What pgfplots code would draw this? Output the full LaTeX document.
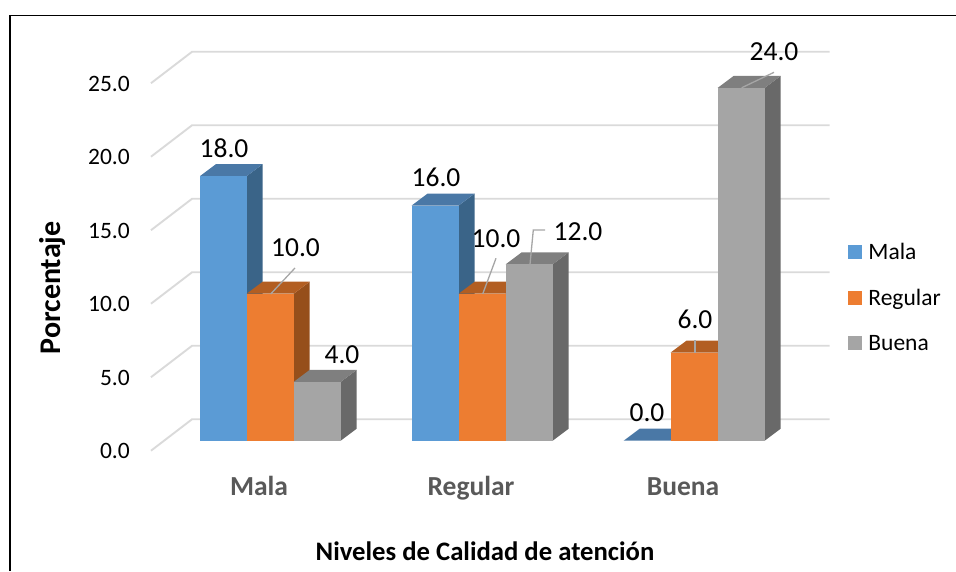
\documentclass[border=0pt]{standalone}
\usepackage{fontspec}
\setmainfont{Carlito}
\usepackage{pgfplots}
\pgfplotsset{compat=1.18}
\definecolor{bF}{HTML}{5B9BD5}\definecolor{bT}{HTML}{4A78A6}\definecolor{bS}{HTML}{3A6488}
\definecolor{oF}{HTML}{ED7D31}\definecolor{oT}{HTML}{B25E22}\definecolor{oS}{HTML}{964F1B}
\definecolor{gF}{HTML}{A5A5A5}\definecolor{gT}{HTML}{7F7F7F}\definecolor{gS}{HTML}{696969}
\definecolor{gridc}{HTML}{DADADA}\definecolor{leader}{HTML}{A6A6A6}\definecolor{cat}{HTML}{595959}
\newcommand\fsA{\fontsize{23.5}{28}\selectfont}
\newcommand\fsB{\fontsize{27.5}{32}\selectfont}
\begin{document}
\begin{tikzpicture}
\useasboundingbox (0,0) rectangle (956pt,571pt);
\draw[line width=1.9pt,black] (9.6pt,0pt) -- (9.6pt,555.5pt) -- (956pt,555.5pt);
\begin{axis}[
  at={(151pt,100.9pt)},anchor=south west,
  scale only axis,width=679pt,height=396.9pt,
  xmin=151,xmax=830,ymin=-2,ymax=25,
  clip=false,
  axis line style={draw=none},
  major tick length=0pt,
  ytick={0,5,10,15,20,25},
  xtick={259,471,683},
  xticklabels={Mala,Regular,Buena},
  /pgf/number format/assume math mode=true,
  /pgf/number format/fixed,/pgf/number format/fixed zerofill,/pgf/number format/precision=1,
  yticklabel style={font=\fsA,black,anchor=east,inner sep=0pt,xshift=-21pt,yshift=-10.5pt},
  xticklabel style={font=\fsB\bfseries,text=cat,anchor=base,inner sep=0pt,yshift=-25pt},
  xlabel={Niveles de Calidad de atención},
  ylabel={Porcentaje},
  xlabel style={font=\fontsize{26.7}{32}\selectfont\bfseries,at={(axis cs:485,-8.18)},anchor=base,inner sep=0pt},
  ylabel style={font=\fontsize{30}{36}\selectfont\bfseries,at={(axis cs:52.5,10.4)},anchor=center,inner sep=0pt},
  legend cell align=left,
  legend style={at={(axis cs:848,13.56)},anchor=north west,draw=none,fill=none,font=\fsA,
    /tikz/row sep=24pt,inner sep=0pt},
  legend image code/.code={\fill[#1,draw=none] (0pt,-7pt) rectangle (14pt,7pt);\path (18pt,0pt);},
]
% gridlines (back wall and side wall)
\addplot[gridc,line width=1.9pt,forget plot] coordinates {(151,-0.68)(192,1.456)(829.5,1.456)};
\addplot[gridc,line width=1.9pt,forget plot] coordinates {(151,4.32)(192,6.456)(829.5,6.456)};
\addplot[gridc,line width=1.9pt,forget plot] coordinates {(151,9.32)(192,11.456)(829.5,11.456)};
\addplot[gridc,line width=1.9pt,forget plot] coordinates {(151,14.32)(192,16.456)(829.5,16.456)};
\addplot[gridc,line width=1.9pt,forget plot] coordinates {(151,19.32)(192,21.456)(829.5,21.456)};
\addplot[gridc,line width=1.9pt,forget plot] coordinates {(151,24.32)(192,26.456)(829.5,26.456)};
% Mala group
\addplot[fill=bS,draw=none,forget plot] coordinates {(246.7,0)(262.7,0.816)(262.7,18.816)(246.7,18)} -- cycle;
\addplot[fill=bT,draw=none,forget plot] coordinates {(200,18)(216,18.816)(262.7,18.816)(246.7,18)} -- cycle;
\addplot[fill=bF,draw=none,forget plot] coordinates {(200,0)(246.7,0)(246.7,18)(200,18)} -- cycle;
\addplot[fill=oS,draw=none,forget plot] coordinates {(293.7,0)(309.7,0.816)(309.7,10.816)(293.7,10)} -- cycle;
\addplot[fill=oT,draw=none,forget plot] coordinates {(246.7,10)(262.7,10.816)(309.7,10.816)(293.7,10)} -- cycle;
\addplot[fill=oF,draw=none,forget plot] coordinates {(246.7,0)(293.7,0)(293.7,10)(246.7,10)} -- cycle;
\addplot[fill=gS,draw=none,forget plot] coordinates {(340.7,0)(356.7,0.816)(356.7,4.816)(340.7,4)} -- cycle;
\addplot[fill=gT,draw=none,forget plot] coordinates {(293.7,4)(309.7,4.816)(356.7,4.816)(340.7,4)} -- cycle;
\addplot[fill=gF,draw=none,forget plot] coordinates {(293.7,0)(340.7,0)(340.7,4)(293.7,4)} -- cycle;
% Regular group
\addplot[fill=bS,draw=none,forget plot] coordinates {(458.7,0)(474.7,0.816)(474.7,16.816)(458.7,16)} -- cycle;
\addplot[fill=bT,draw=none,forget plot] coordinates {(411.7,16)(427.7,16.816)(474.7,16.816)(458.7,16)} -- cycle;
\addplot[fill=bF,draw=none,forget plot] coordinates {(411.7,0)(458.7,0)(458.7,16)(411.7,16)} -- cycle;
\addplot[fill=oS,draw=none,forget plot] coordinates {(505.7,0)(521.7,0.816)(521.7,10.816)(505.7,10)} -- cycle;
\addplot[fill=oT,draw=none,forget plot] coordinates {(458.7,10)(474.7,10.816)(521.7,10.816)(505.7,10)} -- cycle;
\addplot[fill=oF,draw=none,forget plot] coordinates {(458.7,0)(505.7,0)(505.7,10)(458.7,10)} -- cycle;
\addplot[fill=gS,draw=none,forget plot] coordinates {(552.7,0)(568.7,0.816)(568.7,12.816)(552.7,12)} -- cycle;
\addplot[fill=gT,draw=none,forget plot] coordinates {(505.7,12)(521.7,12.816)(568.7,12.816)(552.7,12)} -- cycle;
\addplot[fill=gF,draw=none,forget plot] coordinates {(505.7,0)(552.7,0)(552.7,12)(505.7,12)} -- cycle;
% Buena group
\addplot[fill=bT,draw=none,forget plot] coordinates {(623.7,0)(639.7,0.816)(686.7,0.816)(670.7,0)} -- cycle;
\addplot[fill=oS,draw=none,forget plot] coordinates {(717.7,0)(733.7,0.816)(733.7,6.816)(717.7,6)} -- cycle;
\addplot[fill=oT,draw=none,forget plot] coordinates {(670.7,6)(686.7,6.816)(733.7,6.816)(717.7,6)} -- cycle;
\addplot[fill=oF,draw=none,forget plot] coordinates {(670.7,0)(717.7,0)(717.7,6)(670.7,6)} -- cycle;
\addplot[fill=gS,draw=none,forget plot] coordinates {(764.7,0)(780.7,0.816)(780.7,24.816)(764.7,24)} -- cycle;
\addplot[fill=gT,draw=none,forget plot] coordinates {(717.7,24)(733.7,24.816)(780.7,24.816)(764.7,24)} -- cycle;
\addplot[fill=gF,draw=none,forget plot] coordinates {(717.7,0)(764.7,0)(764.7,24)(717.7,24)} -- cycle;
% leader lines
\addplot[leader,line width=1.3pt,forget plot] coordinates {(270.7,9.98)(295,11.75)};
\addplot[leader,line width=1.3pt,forget plot] coordinates {(482.7,9.98)(496,12.41)};
\addplot[leader,line width=1.3pt,forget plot] coordinates {(530,12)(533.3,14.33)(545,14.33)};
\addplot[leader,line width=1.3pt,forget plot] coordinates {(695,5.99)(695,6.85)};
\addplot[leader,line width=1.3pt,forget plot] coordinates {(741.7,24.01)(774,25.06)};
% data labels
\begin{scope}[every node/.style={font=\fsB,inner sep=0pt,anchor=center}]
\node at (axis cs:224,19.91) {18.0};
\node at (axis cs:295.5,13.11) {10.0};
\node at (axis cs:342,5.83) {4.0};
\node at (axis cs:436,17.94) {16.0};
\node at (axis cs:496,13.72) {10.0};
\node at (axis cs:578,14.2) {12.0};
\node at (axis cs:647,1.88) {0.0};
\node at (axis cs:695,8.28) {6.0};
\node at (axis cs:774,26.44) {24.0};
\end{scope}
\addlegendimage{fill=bF}\addlegendentry{Mala}
\addlegendimage{fill=oF}\addlegendentry{Regular}
\addlegendimage{fill=gF}\addlegendentry{Buena}
\end{axis}
\end{tikzpicture}
\end{document}
